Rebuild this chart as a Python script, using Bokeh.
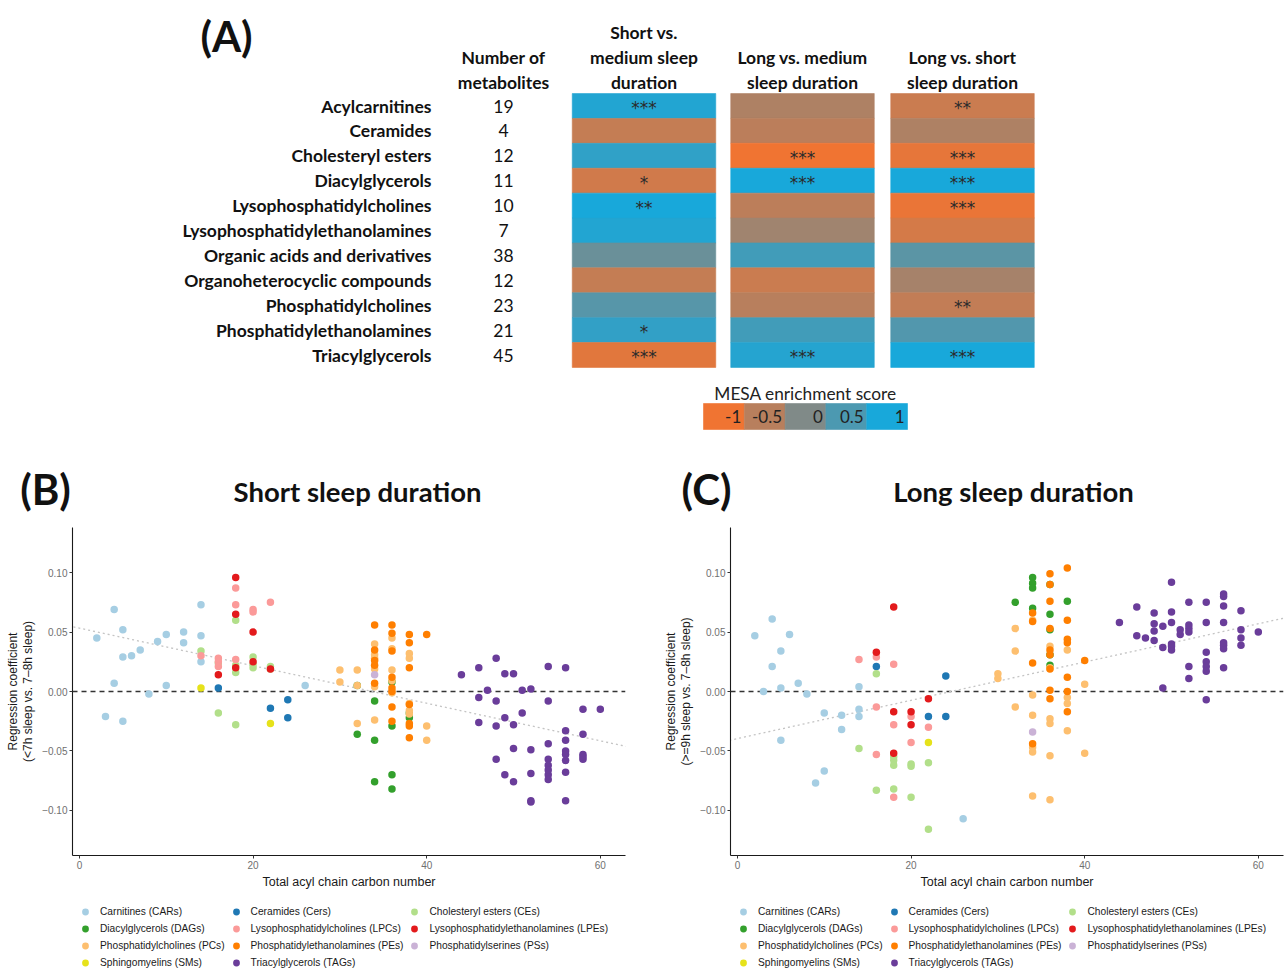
import numpy as np
from bokeh.plotting import figure
from bokeh.layouts import column, row
from bokeh.models import (ColumnDataSource, Range1d, LinearColorMapper, Span, Slope,
                          Legend, LegendItem, FixedTicker)
from bokeh.transform import transform
from bokeh.core.properties import value
from bokeh.embed import file_html
from bokeh.resources import INLINE

# ---------------- data: panel A (heatmap) ----------------
CLASSES = ["Acylcarnitines", "Ceramides", "Cholesteryl esters", "Diacylglycerols",
           "Lysophosphatidylcholines", "Lysophosphatidylethanolamines",
           "Organic acids and derivatives", "Organoheterocyclic compounds",
           "Phosphatidylcholines", "Phosphatidylethanolamines", "Triacylglycerols"]
N_METABOLITES = [19, 4, 12, 11, 10, 7, 38, 12, 23, 21, 45]
COMPARISONS = [["Short vs.", "medium sleep", "duration"],
               ["Long vs. medium", "sleep duration"],
               ["Long vs. short", "sleep duration"]]
COUNT_HEADER = ["Number of", "metabolites"]
SCORE_SHORT_VS_MEDIUM = [0.90, -0.61, 0.76, -0.71, 1.00, 0.90, 0.21, -0.61, 0.40, 0.75, -0.86]
SCORE_LONG_VS_MEDIUM = [-0.41, -0.52, -1.00, 1.00, -0.54, -0.29, 0.60, -0.65, -0.50, 0.60, 0.87]
SCORE_LONG_VS_SHORT = [-0.65, -0.41, -0.90, 1.00, -0.94, -0.75, 0.35, -0.34, -0.58, 0.44, 1.00]
SIG_SHORT_VS_MEDIUM = ["***", "", "", "*", "**", "", "", "", "", "*", "***"]
SIG_LONG_VS_MEDIUM = ["", "", "***", "***", "", "", "", "", "", "", "***"]
SIG_LONG_VS_SHORT = ["**", "", "***", "***", "***", "", "", "", "**", "", "***"]
SCALE_TITLE = "MESA enrichment score"
SCALE_VALUES = [-1, -0.5, 0, 0.5, 1]
SCALE_LABELS = ["-1", "-0.5", "0", "0.5", "1"]

# ---------------- data: panels B and C (scatter) ----------------
CLASS_NAMES = ["Carnitines (CARs)", "Ceramides (Cers)", "Cholesteryl esters (CEs)",
               "Diacylglycerols (DAGs)", "Lysophosphatidylcholines (LPCs)",
               "Lysophosphatidylethanolamines (LPEs)", "Phosphatidylcholines (PCs)",
               "Phosphatidylethanolamines (PEs)", "Phosphatidylserines (PSs)",
               "Sphingomyelins (SMs)", "Triacylglycerols (TAGs)"]
CLASS_COLORS = ["#A6CEE3", "#1F78B4", "#B2DF8A", "#33A02C", "#FB9A99", "#E31A1C",
                "#FDBF6F", "#FF7F00", "#CAB2D6", "#E6E21A", "#6A3D9A"]

# (total acyl chain carbon number, regression coefficient) : short sleep
SHORT_CAR = [(2, 0.045), (3, -0.021), (4, 0.069), (4, 0.007), (5, 0.052), (5, 0.029), (5, -0.025),
             (6, 0.030), (7, 0.035), (8, -0.002), (9, 0.042), (10, 0.048), (10, 0.005), (12, 0.050),
             (12, 0.041), (14, 0.073), (14, 0.047), (14, 0.025), (26, 0.005)]
SHORT_CER = [(16, 0.003), (22, -0.014), (24, -0.007), (24, -0.022)]
SHORT_CE = [(14, 0.034), (16, -0.018), (16, 0.024), (18, 0.060), (18, 0.016), (18, -0.028),
            (18, 0.022), (20, 0.029), (20, 0.020), (20, 0.023), (22, 0.021), (22, 0.019)]
SHORT_DAG = [(32, -0.036), (32, 0.005), (34, -0.008), (34, -0.041), (34, -0.076), (36, 0.008),
             (36, -0.029), (36, -0.070), (36, -0.082), (38, -0.022), (38, -0.018)]
SHORT_LPC = [(14, 0.030), (16, 0.028), (16, 0.025), (16, 0.021), (18, 0.087), (18, 0.073),
             (18, 0.027), (20, 0.069), (20, 0.067), (22, 0.075)]
SHORT_LPE = [(16, 0.014), (18, 0.096), (18, 0.065), (18, 0.020), (20, 0.050), (20, 0.025), (22, 0.019)]
SHORT_PC = [(30, 0.018), (30, 0.008), (32, 0.018), (32, 0.005), (32, -0.027), (34, 0.031), (34, 0.028),
            (34, 0.019), (34, -0.024), (34, 0.040), (34, 0.004), (36, 0.045), (36, 0.018), (36, 0.009),
            (36, 0.036), (36, -0.001), (38, 0.032), (38, 0.028), (38, -0.016), (38, -0.019),
            (38, -0.010), (40, -0.029), (40, -0.041)]
SHORT_PE = [(34, 0.056), (34, 0.035), (34, 0.026), (34, 0.007), (34, 0.022), (36, 0.056), (36, 0.049),
            (36, 0.034), (36, 0.012), (36, 0.003), (36, 0.000), (36, -0.013), (36, -0.025), (38, 0.048),
            (38, 0.041), (38, 0.020), (38, -0.011), (38, -0.027), (38, -0.029), (38, -0.039), (40, 0.048)]
SHORT_PS = [(34, 0.014)]
SHORT_SM = [(14, 0.003), (22, -0.027)]
SHORT_TAG = [(44, 0.014), (46, 0.020), (46, -0.005), (46, -0.026), (47, 0.001), (48, 0.028), (48, -0.008),
             (48, -0.029), (48, -0.057), (49, 0.015), (49, -0.022), (49, -0.070), (50, 0.015), (50, -0.028),
             (50, -0.048), (50, -0.076), (51, 0.001), (51, -0.018), (52, 0.002), (52, -0.049), (52, -0.069),
             (52, -0.092), (52, -0.093), (54, 0.021), (54, -0.008), (54, -0.044), (54, -0.057), (54, -0.062),
             (54, -0.070), (54, -0.074), (54, -0.066), (56, 0.020), (56, -0.033), (56, -0.041), (56, -0.050),
             (56, -0.053), (56, -0.058), (56, -0.068), (56, -0.092), (58, -0.015), (58, -0.036),
             (58, -0.053), (58, -0.057), (58, -0.055), (60, -0.015)]

# (total acyl chain carbon number, regression coefficient) : long sleep
LONG_CAR = [(2, 0.047), (3, 0.000), (4, 0.061), (4, 0.021), (5, 0.034), (5, 0.003), (5, -0.041),
            (6, 0.048), (7, 0.007), (8, -0.002), (9, -0.077), (10, -0.018), (10, -0.067), (12, -0.020),
            (12, -0.032), (14, 0.004), (14, -0.015), (14, -0.021), (26, -0.107)]
LONG_CER = [(16, 0.021), (22, -0.021), (24, 0.013), (24, -0.021)]
LONG_CE = [(14, -0.048), (16, 0.015), (16, -0.083), (18, -0.055), (18, -0.058), (18, -0.062),
           (18, -0.082), (20, -0.061), (20, -0.063), (20, -0.089), (22, -0.060), (22, -0.116)]
LONG_DAG = [(32, 0.075), (34, 0.096), (34, 0.091), (34, 0.087), (34, 0.070), (36, 0.090), (36, 0.065),
            (36, 0.031), (36, 0.022), (36, 0.052), (38, 0.076)]
LONG_LPC = [(14, 0.027), (16, 0.029), (16, -0.013), (16, -0.053), (18, 0.023), (18, -0.028),
            (18, -0.089), (20, -0.021), (20, -0.043), (22, -0.030)]
LONG_LPE = [(16, 0.033), (18, 0.071), (18, -0.017), (18, -0.052), (20, -0.017), (20, -0.028), (22, -0.006)]
LONG_PC = [(30, 0.015), (30, 0.011), (32, 0.053), (32, 0.034), (32, -0.013), (34, -0.003), (34, -0.020),
           (34, -0.047), (34, -0.051), (34, -0.088), (34, 0.060), (36, 0.038), (36, -0.023), (36, -0.027),
           (36, -0.054), (36, -0.091), (36, 0.020), (38, 0.035), (38, -0.005), (38, -0.010), (38, -0.033),
           (40, 0.006), (40, -0.052)]
LONG_PE = [(34, 0.066), (34, 0.059), (34, 0.024), (34, -0.044), (36, 0.099), (36, 0.090), (36, 0.076),
           (36, 0.053), (36, 0.031), (36, 0.019), (36, 0.001), (36, -0.006), (36, 0.035), (38, 0.104),
           (38, 0.060), (38, 0.044), (38, 0.041), (38, 0.012), (38, -0.017), (38, 0.000), (40, 0.026)]
LONG_PS = [(34, -0.034)]
LONG_SM = [(22, -0.043)]
LONG_TAG = [(44, 0.058), (46, 0.071), (46, 0.047), (47, 0.045), (48, 0.066), (48, 0.057), (48, 0.051),
            (48, 0.043), (49, 0.055), (49, 0.037), (49, 0.003), (50, 0.092), (50, 0.067), (50, 0.058),
            (50, 0.038), (50, 0.035), (50, 0.040), (51, 0.052), (51, 0.048), (52, 0.075), (52, 0.053),
            (52, 0.050), (52, 0.021), (52, 0.011), (52, 0.056), (54, 0.075), (54, 0.058), (54, 0.033),
            (54, 0.025), (54, 0.021), (54, 0.017), (54, -0.007), (56, 0.082), (56, 0.080), (56, 0.072),
            (56, 0.058), (56, 0.039), (56, 0.036), (56, 0.020), (56, 0.041), (58, 0.068), (58, 0.052),
            (58, 0.045), (58, 0.039), (60, 0.050)]

SHORT_FIT = (0.0533, -0.00158)   # intercept, slope of the dotted linear trend
LONG_FIT = (-0.0396, 0.00161)
X_TICKS = [0, 20, 40, 60]
Y_TICKS = [-0.10, -0.05, 0.0, 0.05, 0.10]
Y_TICK_LABELS = ["\u22120.10", "\u22120.05", "0.00", "0.05", "0.10"]

# ---------------- styling ----------------
HEAD_FONT = "Lato"
PLOT_FONT = "Liberation Sans"


def hex2rgb(h):
    return tuple(int(h[i:i + 2], 16) for i in (1, 3, 5))


LOW_C, MID_C, HIGH_C = hex2rgb("#F07432"), hex2rgb("#808A88"), hex2rgb("#18A8DA")
palette = []
for t in np.linspace(-1, 1, 257):
    end, f = (LOW_C, -t) if t < 0 else (HIGH_C, t)
    c = [int(round(MID_C[k] + (end[k] - MID_C[k]) * f)) for k in range(3)]
    palette.append("#%02x%02x%02x" % tuple(c))
mapper = LinearColorMapper(palette=palette, low=-1, high=1)

# ---------------- panel A ----------------
WA, HA = 1285, 527
pa = figure(width=WA, height=HA, x_range=Range1d(0, WA), y_range=Range1d(HA, 0),
            x_axis_type=None, y_axis_type=None, output_backend="svg",
            toolbar_location=None, min_border=0)
pa.outline_line_color = None
pa.grid.visible = False

ROW_H = 24.9
CELL_W = 143.5
ROW_Y = [105.5 + ROW_H * i for i in range(len(CLASSES))]
COL_X = [643.5, 802, 962]
LABEL_FS = "17.5px"

hx, hy, hs, hg = [], [], [], []
for j, (scores, sigs) in enumerate(zip([SCORE_SHORT_VS_MEDIUM, SCORE_LONG_VS_MEDIUM, SCORE_LONG_VS_SHORT],
                                       [SIG_SHORT_VS_MEDIUM, SIG_LONG_VS_MEDIUM, SIG_LONG_VS_SHORT])):
    for i in range(len(CLASSES)):
        hx.append(COL_X[j])
        hy.append(ROW_Y[i])
        hs.append(scores[i])
        hg.append(sigs[i])
heat = ColumnDataSource(dict(x=hx, y=hy, score=hs, sig=hg))
pa.rect("x", "y", width=CELL_W, height=ROW_H, source=heat,
        fill_color=transform("score", mapper), line_color=transform("score", mapper), line_width=0.6)
pa.text("x", "y", text="sig", source=heat, text_align="center", text_baseline="middle",
        text_font=value("DejaVu Sans"), text_font_size="17px", text_color="#2b2b2b", y_offset=2)

pa.text(x=[431] * len(CLASSES), y=ROW_Y, text=CLASSES, text_align="right", text_baseline="middle",
        text_font=value(HEAD_FONT), text_font_style="bold", text_font_size=LABEL_FS, text_color="#111111")
pa.text(x=[503] * len(CLASSES), y=ROW_Y, text=[str(n) for n in N_METABOLITES], text_align="center",
        text_baseline="middle", text_font=value(HEAD_FONT), text_font_size=LABEL_FS, text_color="#111111")

# column headers
LINE_H = 25
hdx, hdy, hdt = [], [], []
for cx, lines in zip([503] + COL_X, [COUNT_HEADER] + COMPARISONS):
    n = len(lines)
    for k, line in enumerate(lines):
        hdx.append(cx)
        hdy.append(82 - (n - 1 - k) * LINE_H)
        hdt.append(line)
pa.text(x=hdx, y=hdy, text=hdt, text_align="center", text_baseline="middle",
        text_font=value(HEAD_FONT), text_font_style="bold", text_font_size=LABEL_FS, text_color="#111111")

# colour scale
CB_W = 40.8
cb_x = [703 + CB_W * (i + 0.5) for i in range(len(SCALE_VALUES))]
cb = ColumnDataSource(dict(x=cb_x, y=[416] * len(SCALE_VALUES), v=SCALE_VALUES, lab=SCALE_LABELS,
                           lx=[x + CB_W / 2 - 3 for x in cb_x]))
pa.rect("x", "y", width=CB_W, height=26, source=cb, fill_color=transform("v", mapper),
        line_color=transform("v", mapper), line_width=0.6)
pa.text("lx", "y", text="lab", source=cb, text_align="right", text_baseline="middle",
        text_font=value(HEAD_FONT), text_font_size="17px", text_color="#222222")
pa.text(x=[805], y=[393], text=[SCALE_TITLE], text_align="center", text_baseline="middle",
        text_font=value(HEAD_FONT), text_font_size="17.3px", text_color="#222222")

# panel letters and titles
pa.text(x=[226, 45, 706], y=[35, 488, 488], text=["(A)", "(B)", "(C)"],
        text_align="center", text_baseline="middle", text_font=value(HEAD_FONT),
        text_font_style="bold", text_font_size="42px", text_color="#111111")
pa.text(x=[357, 1013], y=[491, 491], text=["Short sleep duration", "Long sleep duration"],
        text_align="center", text_baseline="middle", text_font=value(HEAD_FONT),
        text_font_style="bold", text_font_size="27.5px", text_color="#111111")


# ---------------- panels B and C ----------------
def scatter_panel(groups, fit, ylabel, width, border_left, border_right):
    p = figure(width=width, height=364, x_range=Range1d(-0.8, 62.9),
               y_range=Range1d(-0.138, 0.138), output_backend="svg", toolbar_location=None,
               min_border_left=border_left, min_border_right=border_right, min_border_top=0,
               min_border_bottom=36)
    p.grid.visible = False
    p.outline_line_color = None
    p.add_layout(Span(location=0, dimension="width", line_color="#333333", line_dash="5 4",
                      line_width=1.3, level="underlay"))
    p.add_layout(Slope(gradient=fit[1], y_intercept=fit[0], line_color="#C4C4C4", line_dash="2 3",
                       line_width=1.3, level="underlay"))
    for color, pts in zip(CLASS_COLORS, groups):
        src = ColumnDataSource(dict(c=[a for a, b in pts], r=[b for a, b in pts]))
        p.scatter("c", "r", source=src, size=7.5, fill_color=color, line_color=None)
    p.xaxis.ticker = FixedTicker(ticks=X_TICKS)
    p.yaxis.ticker = FixedTicker(ticks=Y_TICKS)
    p.yaxis.major_label_overrides = {t: s for t, s in zip(Y_TICKS, Y_TICK_LABELS)}
    p.axis.axis_line_color = "#1a1a1a"
    p.axis.axis_line_width = 1.1
    p.axis.major_tick_line_color = "#333333"
    p.axis.major_tick_out = 3
    p.axis.major_tick_in = 0
    p.axis.minor_tick_line_color = None
    p.axis.major_label_text_font = PLOT_FONT
    p.axis.major_label_text_font_size = "10px"
    p.axis.major_label_text_color = "#707070"
    p.axis.major_label_standoff = 2
    p.axis.axis_label_text_font = PLOT_FONT
    p.axis.axis_label_text_font_style = "normal"
    p.axis.axis_label_text_color = "#1a1a1a"
    p.xaxis.axis_label = "Total acyl chain carbon number"
    p.xaxis.axis_label_text_font_size = "12.5px"
    p.xaxis.axis_label_standoff = 3
    p.yaxis.axis_label = ylabel
    p.yaxis.axis_label_text_font_size = "12px"
    p.yaxis.axis_label_text_line_height = 1.05
    p.yaxis.axis_label_standoff = 4
    return p


def legend_panel(groups, width, offset_x):
    # legend keys: one renderer per class, its points lie outside this panel's ranges
    lp = figure(width=width, height=80, x_range=Range1d(-2, -1), y_range=Range1d(-2, -1),
                x_axis_type=None, y_axis_type=None, output_backend="svg",
                toolbar_location=None, min_border=0)
    lp.outline_line_color = None
    lp.grid.visible = False
    items = []
    for name, color, pts in zip(CLASS_NAMES, CLASS_COLORS, groups):
        src = ColumnDataSource(dict(c=[a for a, b in pts], r=[b for a, b in pts]))
        r = lp.scatter("c", "r", source=src, size=7.5, fill_color=color, line_color=None)
        items.append(LegendItem(label=name, renderers=[r]))
    leg = Legend(items=items, orientation="horizontal", ncols=3, location=(offset_x, 0),
                 margin=0, padding=0, glyph_width=22, glyph_height=17, label_height=17,
                 label_standoff=4, spacing=0, label_text_font=PLOT_FONT,
                 label_text_font_size="10.2px", label_text_color="#1a1a1a",
                 border_line_color=None, background_fill_alpha=0)
    lp.add_layout(leg, "center")
    return lp


SHORT_GROUPS = [SHORT_CAR, SHORT_CER, SHORT_CE, SHORT_DAG, SHORT_LPC, SHORT_LPE, SHORT_PC,
                SHORT_PE, SHORT_PS, SHORT_SM, SHORT_TAG]
LONG_GROUPS = [LONG_CAR, LONG_CER, LONG_CE, LONG_DAG, LONG_LPC, LONG_LPE, LONG_PC,
               LONG_PE, LONG_PS, LONG_SM, LONG_TAG]

pb = scatter_panel(SHORT_GROUPS, SHORT_FIT,
                   "Regression coefficient\n(<7h sleep vs. 7\u20138h sleep)", 650, 72, 25)
pc = scatter_panel(LONG_GROUPS, LONG_FIT,
                   "Regression coefficient\n(>=9h sleep vs. 7\u20138h sleep)", 635, 80, 2)
lb = legend_panel(SHORT_GROUPS, 650, 2)
lc = legend_panel(LONG_GROUPS, 635, 2)

layout = column(pa, row(column(pb, lb, spacing=0), column(pc, lc, spacing=0), spacing=0), spacing=0)
open("out.html", "w").write(file_html(layout, INLINE))
